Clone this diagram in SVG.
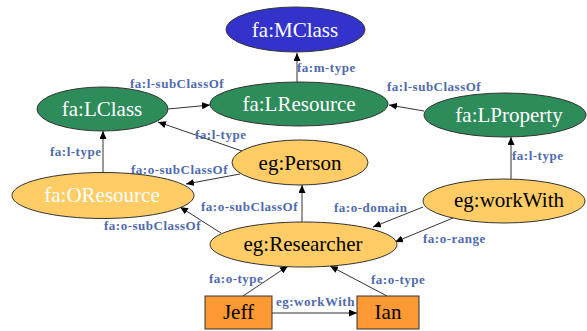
<svg xmlns="http://www.w3.org/2000/svg" width="587" height="331" viewBox="0 0 587 331">
  <style>
    .node { stroke: #333; stroke-width: 1; }
    .meta { fill: #3333cc; }
    .lang { fill: #2e8b5a; }
    .obj { fill: #ffcc66; }
    .inst { fill: #ff9933; }
    .nt { font-family: 'Liberation Serif', 'Times New Roman', Times, 'DejaVu Serif', serif; font-size: 21px; text-anchor: middle; }
    .w { fill: #ffffff; }
    .b { fill: #000000; }
    .edge { stroke: #333; stroke-width: 1; fill: none; marker-end: url(#arrow); }
    .lbl { font-family: 'Liberation Serif', 'Times New Roman', Times, 'DejaVu Serif', serif; font-size: 13px; font-weight: bold; fill: #4f6ab0; letter-spacing: 0.5px; }
  </style>
  <defs>
    <marker id="arrow" markerUnits="userSpaceOnUse" markerWidth="9" markerHeight="7" refX="8" refY="3.5" orient="auto">
      <path d="M0,0 L8,3.5 L0,7 z" fill="#000"/>
    </marker>
  </defs>
  <rect width="587" height="331" fill="#ffffff"/>

  <!-- connectors -->
  <g id="connectors">
    <line class="edge" x1="297" y1="82" x2="297" y2="53"/>
    <text class="lbl" x="297" y="72">fa:m-type</text>

    <line class="edge" x1="168" y1="109" x2="210" y2="105"/>
    <text class="lbl" x="130" y="88">fa:l-subClassOf</text>

    <line class="edge" x1="424" y1="111" x2="389" y2="105"/>
    <text class="lbl" x="387" y="91">fa:l-subClassOf</text>

    <line class="edge" x1="242" y1="151" x2="158" y2="122"/>
    <text class="lbl" x="195" y="139">fa:l-type</text>

    <line class="edge" x1="103" y1="173" x2="103" y2="131"/>
    <text class="lbl" x="50" y="156">fa:l-type</text>

    <line class="edge" x1="240" y1="174" x2="186" y2="184"/>
    <text class="lbl" x="131" y="174">fa:o-subClassOf</text>

    <line class="edge" x1="302" y1="222" x2="302" y2="185"/>
    <text class="lbl" x="201" y="211">fa:o-subClassOf</text>

    <line class="edge" x1="221" y1="233" x2="180" y2="207"/>
    <text class="lbl" x="104" y="230">fa:o-subClassOf</text>

    <line class="edge" x1="423" y1="207" x2="373" y2="227"/>
    <text class="lbl" x="334" y="212">fa:o-domain</text>

    <line class="edge" x1="453" y1="218" x2="395" y2="242"/>
    <text class="lbl" x="423" y="243">fa:o-range</text>

    <line class="edge" x1="511" y1="179" x2="511" y2="137"/>
    <text class="lbl" x="512" y="160">fa:l-type</text>

    <line class="edge" x1="243" y1="296" x2="288" y2="266"/>
    <text class="lbl" x="209" y="283">fa:o-type</text>

    <line class="edge" x1="387" y1="296" x2="330" y2="266"/>
    <text class="lbl" x="371" y="284">fa:o-type</text>

    <line class="edge" x1="272" y1="313" x2="357" y2="313"/>
    <text class="lbl" x="276" y="306">eg:workWith</text>
  </g>

  <!-- nodes -->
  <g id="MClass">
    <ellipse class="node meta" cx="295.5" cy="29.5" rx="69.5" ry="22.5"/>
    <text class="nt w" x="295" y="37">fa:MClass</text>
  </g>
  <g id="LClass">
    <ellipse class="node lang" cx="102.5" cy="109" rx="65.5" ry="22"/>
    <text class="nt w" x="102" y="116">fa:LClass</text>
  </g>
  <g id="LResource">
    <ellipse class="node lang" cx="299" cy="104" rx="89" ry="22"/>
    <text class="nt w" x="299" y="111">fa:LResource</text>
  </g>
  <g id="LProperty">
    <ellipse class="node lang" cx="505" cy="115" rx="81" ry="22"/>
    <text class="nt w" x="509" y="122">fa:LProperty</text>
  </g>
  <g id="Person">
    <ellipse class="node obj" cx="300" cy="162.5" rx="68" ry="22.5"/>
    <text class="nt b" x="300" y="170">eg:Person</text>
  </g>
  <g id="OResource">
    <ellipse class="node obj" cx="103" cy="195.5" rx="91" ry="23"/>
    <text class="nt w" x="102" y="202">fa:OResource</text>
  </g>
  <g id="Researcher">
    <ellipse class="node obj" cx="303.5" cy="244.5" rx="93.5" ry="22.5"/>
    <text class="nt b" x="303" y="251">eg:Researcher</text>
  </g>
  <g id="workWith">
    <ellipse class="node obj" cx="504" cy="201" rx="81" ry="22"/>
    <text class="nt b" x="509" y="207">eg:workWith</text>
  </g>
  <g id="Jeff">
    <rect class="node inst" x="205" y="296" width="67" height="33"/>
    <text class="nt b" x="238.5" y="319">Jeff</text>
  </g>
  <g id="Ian">
    <rect class="node inst" x="357" y="296" width="62" height="33"/>
    <text class="nt b" x="388" y="319">Ian</text>
  </g>
</svg>
